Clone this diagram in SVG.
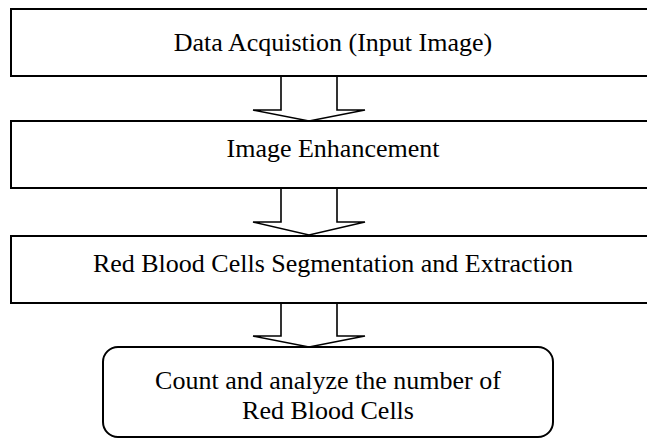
<svg xmlns="http://www.w3.org/2000/svg" width="647" height="440" viewBox="0 0 647 440">
  <style>
    .box { fill: #ffffff; stroke: #000000; stroke-width: 2; }
    .lbl { font-family: "Liberation Serif", "Times New Roman", serif; font-size: 26px; fill: #000000; text-anchor: middle; }
    .arr { fill: none; stroke: #000000; stroke-width: 1.6; stroke-linejoin: miter; }
  </style>
  <rect x="0" y="0" width="647" height="440" fill="#ffffff"/>
  <g id="connectors">
    <polyline class="arr" points="281,76 281,110 253,110 309,121 365,110 337,110 337,76"/>
    <polyline class="arr" points="281,188 281,222 253,222 309,235 365,222 337,222 337,188"/>
    <polyline class="arr" points="281,303 281,336 253,336 309,347 365,336 337,336 337,303"/>
  </g>
  <g id="node-data-acquisition">
    <rect class="box" x="11" y="9" width="660" height="67"/>
    <text class="lbl" x="333" y="51">Data Acquistion (Input Image)</text>
  </g>
  <g id="node-image-enhancement">
    <rect class="box" x="11" y="121" width="660" height="67"/>
    <text class="lbl" x="333" y="157">Image Enhancement</text>
  </g>
  <g id="node-segmentation">
    <rect class="box" x="11" y="236" width="660" height="67"/>
    <text class="lbl" x="333" y="272">Red Blood Cells Segmentation and Extraction</text>
  </g>
  <g id="node-count">
    <rect class="box" x="103" y="347" width="450" height="90" rx="15" ry="15"/>
    <text class="lbl" x="328" y="389">Count and analyze the number of</text>
    <text class="lbl" x="328" y="419">Red Blood Cells</text>
  </g>
</svg>
